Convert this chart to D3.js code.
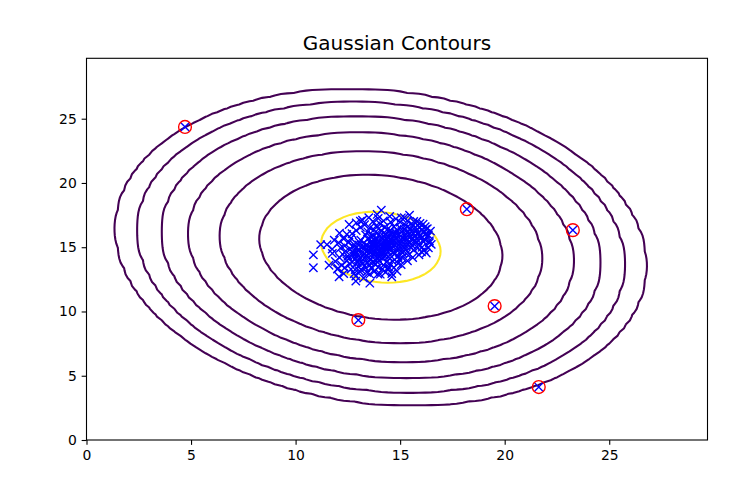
<!DOCTYPE html>
<html>
<head>
<meta charset="utf-8">
<script src="https://cdn.jsdelivr.net/npm/d3@7"></script>
<style>
  html, body { margin: 0; padding: 0; background: #ffffff; }
  svg { display: block; font-family: "DejaVu Sans", sans-serif; }
</style>
</head>
<body>
<svg id="chart" width="748" height="477"></svg>
<script>
// ---------------- data ----------------
const chartTitle = "Gaussian Contours";
const xTicks = [0, 5, 10, 15, 20, 25];
const yTicks = [0, 5, 10, 15, 20, 25];
const axisMax = 29.7;          // evaluation grid 0 .. 29.7
const gridStep = 0.3;

// fitted Gaussian (mean and covariance)
const mu = [14.08, 15.0];
const sigma = [[1.84, -0.21], [-0.21, 1.73]];
// contour levels: 10^e
const levelExponents = [-20, -17, -14, -11, -8, -5, -2];

// flagged anomalies
const outlierX = [4.71, 18.19, 23.26, 19.52, 21.63, 13.00];
const outlierY = [24.36, 17.96, 16.33, 10.42, 4.12, 9.33];

// training examples (x, y)
const cluster = [
  // outskirts
  [10.85,14.40],[10.85,13.40],[11.20,15.20],[11.76,14.52],[12.56,16.77],[13.10,17.03],[14.10,17.88],
  [15.06,17.29],[16.22,16.38],[16.49,15.22],[16.02,14.64],[13.55,12.20],[12.88,12.36],[12.88,12.75],
  [12.08,12.70],[12.03,13.35],[13.94,12.91],[14.44,13.30],[13.15,13.22],
  // core
  [14.12,15.03],[13.85,14.92],[14.35,15.18],[14.02,14.71],[14.28,14.88],[13.91,15.22],[14.47,15.05],
  [13.76,14.80],[14.18,15.37],[14.05,14.55],[13.68,15.10],[14.55,15.32],[13.95,15.45],[14.40,14.70],
  [14.22,15.15],[13.82,14.60],[14.60,14.95],[13.60,14.88],[14.30,15.45],[13.98,15.08],[14.08,14.85],
  [14.45,15.50],[13.72,15.30],[14.52,14.78],[13.88,14.40],[14.25,14.60],[14.15,15.60],[13.55,14.65],
  [14.70,15.20],[13.93,15.00],[14.38,14.95],[13.80,15.55],[14.62,15.40],[14.00,14.30],[13.65,15.48],
  [14.33,15.62],[14.10,14.45],[14.48,15.25],[13.70,14.52],[14.20,15.05],
  [14.80,15.60],[15.00,15.35],[14.90,14.90],[15.10,15.75],[14.75,15.85],[15.20,15.20],[14.95,16.00],
  [15.05,14.70],[15.30,15.55],[14.65,16.10],[13.40,14.30],[13.20,14.60],[13.30,14.95],[13.10,14.20],
  [13.50,13.95],[13.25,15.30],[13.45,15.65],[13.60,14.10],[13.00,14.75],[13.15,13.90],[14.30,16.05],
  [13.90,16.10],[14.55,16.30],[14.10,16.25],[13.70,15.90],[14.85,16.35],[14.40,16.40],[14.00,13.95],
  [14.35,13.85],[13.80,13.70],[14.60,14.25],[14.75,14.50],[14.90,14.30],[13.55,13.60],[14.20,13.60],
  [15.15,16.05],[15.35,15.90],[15.45,15.35],[15.25,14.85],[15.40,16.20],[13.35,15.95],[13.05,15.40],
  [12.95,14.40],[12.90,14.95],[13.75,16.35],[14.25,16.55],[15.55,15.65],[15.60,15.10],[14.95,14.05],
  [13.65,13.35],[14.50,13.75],[15.00,16.50],[15.20,16.40],[13.95,13.45],[12.85,14.10],[13.45,16.20],
  [15.70,15.90],[15.50,16.45],[14.65,13.90],[15.30,14.50],[13.20,13.70],[12.80,15.20],[14.70,16.60],
  [13.55,16.50],[15.80,15.40],[15.65,14.80],[14.15,13.30],[13.35,13.40],[12.75,14.55],[15.10,14.20],
  [14.45,13.45],[13.85,16.65],[15.90,16.10],[15.45,14.45],[12.70,13.85],[13.00,13.50],[15.75,16.30],
  [14.90,13.75],[15.25,16.70],[14.05,16.80],
  [16.00,15.70],[16.10,16.20],[15.95,16.55],[16.20,15.55],[15.85,14.95],[16.05,15.00],[15.90,14.40],
  [16.25,16.05],[16.15,14.75],[15.60,16.75],[15.95,16.85],[16.30,15.80],[12.50,14.30],[12.40,14.70],
  [12.60,13.70],[12.35,15.10],[12.55,15.40],[12.45,13.95],[12.65,15.70],[12.25,14.45],[12.20,13.60],
  [12.70,16.05],[12.90,16.30],[13.10,16.55],[13.30,16.75],[12.30,15.65],[13.05,13.15],[12.85,13.25],
  [12.65,13.30],[13.40,13.05],[13.75,13.10],[14.30,13.05],[14.70,13.40],[15.05,13.65],[15.35,13.95],
  [15.60,14.20],[14.85,13.15],[14.55,16.95],[14.20,17.05],[13.70,17.00],[13.95,17.25],[15.00,16.95],
  [15.35,17.05],[14.80,17.20],[16.40,15.35],[16.35,14.95],[12.15,14.95],[12.10,14.20],[12.35,13.40],
  [16.45,16.25],[13.55,12.90],[14.05,12.90],[14.60,12.95],[12.45,16.00],[12.05,15.35],[13.20,17.10],
  [15.65,17.00],[16.20,16.60],[12.80,12.95],
  [16.35,15.95],[16.30,16.45],[16.25,14.55],[16.40,15.50],[11.90,13.90],[11.75,14.85],[11.85,15.55],
  [12.10,16.10],[12.90,16.90],[13.50,17.30],[14.50,17.40],[15.20,17.30],[15.80,17.00],[16.10,16.80],
  [12.00,13.30],[12.30,12.95],[13.25,12.60],[14.60,12.70],[11.60,13.60],[11.50,15.20],[13.90,17.55],
  [15.45,17.50],
  [13.30,14.45],[13.45,14.75],[13.62,15.25],[13.78,15.05],[13.52,15.02],[13.38,15.18],[13.18,14.95],
  [13.28,14.15],[13.48,14.50],[13.05,14.05],[12.95,13.80],[12.78,14.30],[12.62,14.85],[12.88,14.62],
  [13.12,15.55],[13.58,15.80],[13.85,15.75],[14.05,15.88],[14.40,15.80],[14.62,15.68],[14.85,15.30],
  [15.05,15.55],[15.15,15.00],[15.38,15.22],[15.52,15.85],[15.62,16.10],[15.78,15.65],[15.88,15.20],
  [15.95,15.85],[16.10,15.45],[15.72,16.55],[15.35,16.58],[15.08,16.22],[14.78,16.12],[14.52,16.05],
  [14.22,15.85],[13.98,16.45],[14.68,14.60],[14.85,14.75],[15.12,14.55],[14.42,14.25],[14.18,14.15],
  [13.92,14.18],[13.68,13.85],[13.85,13.95],[14.25,14.35],[14.58,15.58],[14.92,15.12],[15.28,15.72],
  [15.48,15.02],[13.42,13.75],[13.22,14.40],[12.55,14.10],[12.72,15.05],[13.02,15.18],[15.82,16.05],
  [16.05,16.35],[15.65,15.45],[15.42,16.00],[14.72,15.95]
];

// ---------------- layout ----------------
const svg = d3.select("#chart");
const plot = { left: 86.5, right: 707.5, top: 58.3, bottom: 440 };
const xScale = d3.scaleLinear().domain([0, axisMax]).range([plot.left, plot.right]);
const yScale = d3.scaleLinear().domain([0, axisMax]).range([plot.bottom, plot.top]);

svg.append("rect").attr("width", 748).attr("height", 477).attr("fill", "#ffffff");

// ---------------- gaussian grid + contours ----------------
const det = sigma[0][0] * sigma[1][1] - sigma[0][1] * sigma[1][0];
const inv = [[sigma[1][1] / det, -sigma[0][1] / det], [-sigma[1][0] / det, sigma[0][0] / det]];
const norm = 1 / (2 * Math.PI * Math.sqrt(det));
function pdf(x, y) {
  const dx = x - mu[0], dy = y - mu[1];
  const q = dx * (inv[0][0] * dx + inv[0][1] * dy) + dy * (inv[1][0] * dx + inv[1][1] * dy);
  return norm * Math.exp(-0.5 * q);
}
const n = Math.round(axisMax / gridStep) + 1;
const values = new Array(n * n);
for (let j = 0; j < n; j++) {
  for (let i = 0; i < n; i++) {
    values[j * n + i] = pdf(i * gridStep, j * gridStep);
  }
}
const levels = levelExponents.map(e => Math.pow(10, e));
const contourGen = d3.contours().size([n, n]).thresholds(levels);
const contours = contourGen(values);

const color = d3.scaleLinear().domain([d3.min(levels), d3.max(levels)]).range([0, 1]);
const projection = d3.geoTransform({
  point: function (gx, gy) {
    this.stream.point(xScale((gx - 0.5) * gridStep), yScale((gy - 0.5) * gridStep));
  }
});
const path = d3.geoPath(projection);

svg.append("clipPath").attr("id", "plotclip")
  .append("rect").attr("x", plot.left).attr("y", plot.top)
  .attr("width", plot.right - plot.left).attr("height", plot.bottom - plot.top);

const g = svg.append("g").attr("clip-path", "url(#plotclip)");

g.selectAll("path.contour").data(contours).enter().append("path")
  .attr("class", "contour")
  .attr("d", path)
  .attr("fill", "none")
  .attr("stroke", d => d3.interpolateViridis(color(d.value)))
  .attr("stroke-width", 2.08)
  .attr("stroke-linejoin", "round");

// ---------------- points ----------------
const xs = 4.17;
g.selectAll("path.pt").data(cluster.concat(outlierX.map((x, i) => [x, outlierY[i]])))
  .enter().append("path")
  .attr("class", "pt")
  .attr("d", d => {
    const px = xScale(d[0]), py = yScale(d[1]);
    return `M${px - xs},${py - xs}L${px + xs},${py + xs}M${px - xs},${py + xs}L${px + xs},${py - xs}`;
  })
  .attr("stroke", "#0000ff")
  .attr("stroke-width", 1.39)
  .attr("fill", "none");

g.selectAll("circle.out").data(outlierX.map((x, i) => [x, outlierY[i]]))
  .enter().append("circle")
  .attr("class", "out")
  .attr("cx", d => xScale(d[0]))
  .attr("cy", d => yScale(d[1]))
  .attr("r", 6.4)
  .attr("fill", "none")
  .attr("stroke", "#ff0000")
  .attr("stroke-width", 1.39);

// ---------------- axes ----------------
const xAxis = d3.axisBottom(xScale).tickValues(xTicks).tickSize(4.86).tickPadding(4.86).tickFormat(d3.format("d"));
const yAxis = d3.axisLeft(yScale).tickValues(yTicks).tickSize(4.86).tickPadding(4.86).tickFormat(d3.format("d"));

const gx = svg.append("g").attr("transform", `translate(0,${plot.bottom})`).call(xAxis);
const gy = svg.append("g").attr("transform", `translate(${plot.left},0)`).call(yAxis);
[gx, gy].forEach(a => {
  a.select(".domain").remove();
  a.selectAll(".tick line").attr("stroke", "#000").attr("stroke-width", 1.1);
  a.selectAll(".tick text").attr("fill", "#000").attr("font-size", "13.9px")
    .attr("font-family", "DejaVu Sans, sans-serif");
});

// frame
svg.append("rect")
  .attr("x", plot.left).attr("y", plot.top)
  .attr("width", plot.right - plot.left).attr("height", plot.bottom - plot.top)
  .attr("fill", "none").attr("stroke", "#000").attr("stroke-width", 1.1);

// title
svg.append("text")
  .attr("x", (plot.left + plot.right) / 2)
  .attr("y", 50)
  .attr("text-anchor", "middle")
  .attr("font-size", "20px")
  .attr("font-family", "DejaVu Sans, sans-serif")
  .attr("fill", "#000")
  .text(chartTitle);
</script>
</body>
</html>
